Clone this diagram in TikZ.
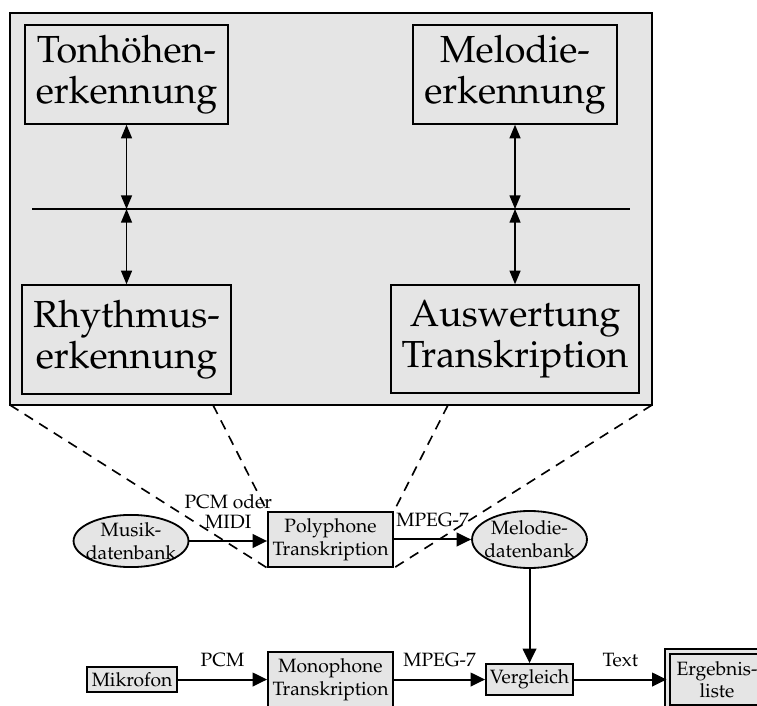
\documentclass[tikz,border=0pt]{standalone}
\usepackage[T1]{fontenc}
\usepackage{mathpazo}
\usetikzlibrary{arrows.meta,shapes.geometric}

\tikzset{
	bigbox/.style={draw, line width=0.8pt, fill=black!10, align=center, font=\fontsize{20.74}{22.5}\selectfont, inner sep=0pt},
	smallbox/.style={draw, line width=1pt, fill=black!10, align=center, inner sep=0pt},
	dbank/.style={ellipse, draw, line width=1pt, fill=black!10, align=center, inner xsep=-2.5pt, inner ysep=0pt},
	flow/.style={line width=1.1pt, -{Triangle[length=8pt,width=7.5pt]}},
	bothway/.style={line width=0.9pt, {Triangle[length=7.5pt,width=6pt]}-{Triangle[length=7.5pt,width=6pt]}},
	lbl/.style={anchor=south, align=center, inner sep=0pt, yshift=6.3pt},
	zoomline/.style={line width=0.9pt, dash pattern=on 5.5pt off 4pt},
}

\begin{document}
\begin{tikzpicture}[font=\fontsize{10.6}{12.4}\selectfont]
		%%%%% START %%%%%
		\useasboundingbox (0,0) rectangle (14.635,-13.630);
		
		% gro\ss er Rahmen mit den vier Modulen
		\node[draw, line width=1.5pt, fill=black!10, outer sep=0pt, anchor=north west,
			minimum width=12.412cm, minimum height=7.579cm] (frame) at (0.193,-0.251) {};
		
		\node[bigbox, minimum width=3.925cm, minimum height=1.914cm] (ton) at (2.446,-1.440) {Tonh\"ohen-\\erkennung};
		\node[bigbox, minimum width=3.944cm, minimum height=1.914cm] (mel) at (9.957,-1.440) {Melodie-\\erkennung};
		\node[bigbox, minimum width=4.041cm, minimum height=2.107cm] (rhy) at (2.446,-6.564) {Rhythmus-\\erkennung};
		\node[bigbox, minimum width=4.795cm, minimum height=2.088cm] (ausw) at (9.957,-6.554) {Auswertung\\Transkription};
		
		\coordinate (busl) at (0.619,-4.041);
		\coordinate (busr) at (12.180,-4.041);
		\draw[line width=0.9pt] (busl) -- (busr);
		
		\draw[bothway] (ton) -- (ton |- busl);
		\draw[bothway] (ton |- busl) -- (rhy);
		\draw[bothway] (mel) -- (mel |- busl);
		\draw[bothway] (mel |- busl) -- (ausw);
		
		% polyphoner Zweig
		\node[dbank, minimum width=2.185cm, minimum height=0.986cm] (mus) at (2.533,-10.459) {Musik-\\datenbank};
		\node[smallbox, minimum width=2.417cm, minimum height=1.063cm] (poly) at (6.390,-10.430) {Polyphone\\Transkription};
		\node[dbank, minimum width=2.185cm, minimum height=1.102cm] (mdb) at (10.237,-10.430) {Melodie-\\datenbank};
		
		\draw[flow] (mus) -- (mus -| poly.west) node[lbl, midway] {PCM oder\\[-1.5pt]MIDI};
		\draw[flow] (poly) -- (mdb) node[lbl, midway] {MPEG-7};
		
		% Lupe auf die polyphone Transkription
		\coordinate (zl) at (4.118,-7.830);
		\coordinate (zr) at (8.661,-7.830);
		\draw[zoomline] (frame.south west) -- (poly.south west);
		\draw[zoomline] (zl) -- (poly.north west);
		\draw[zoomline] (zr) -- (poly.north east);
		\draw[zoomline] (frame.south east) -- (poly.south east);
		
		% monophoner Zweig
		\node[smallbox, minimum width=1.740cm, minimum height=0.483cm] (mik) at (2.552,-13.137) {Mikrofon};
		\node[smallbox, minimum width=2.417cm, minimum height=1.063cm] (mono) at (6.390,-13.137) {Monophone\\Transkription};
		\node[smallbox, minimum width=1.682cm, minimum height=0.599cm] (vgl) at (10.237,-13.137) {Vergleich};
		\node[smallbox, double=black!10, double distance=1.9pt, minimum width=1.914cm, minimum height=1.083cm] (erg) at (13.862,-13.137) {Ergebnis-\\liste};
		
		\draw[flow] (mik) -- (mono) node[lbl, midway] {PCM};
		\draw[flow] (mono) -- (vgl) node[lbl, midway] {MPEG-7};
		\draw[flow] (mdb) -- (vgl);
		\draw[flow] (vgl) -- (erg) node[lbl, midway] {Text};
		%%%%% END %%%%%
\end{tikzpicture}
\end{document}
